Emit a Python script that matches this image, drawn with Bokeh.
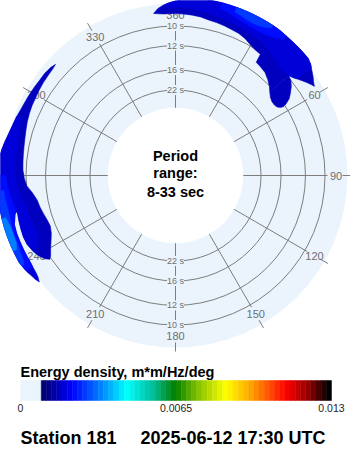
import numpy as np
from bokeh.plotting import figure
from bokeh.models import Range1d, ColumnDataSource, LinearColorMapper
from bokeh.transform import transform
from bokeh.core.properties import value
from bokeh.embed import file_html
from bokeh.resources import INLINE

# ---------------- data ----------------
STATION = "Station 181"
STAMP = "2025-06-12 17:30 UTC"
CENTER_LINES = ["Period", "range:", "8-33 sec"]
PERIOD_MIN = 8.0
PERIOD_MAX = 33.0
GRID_PERIODS = [10, 12, 16, 22]
BEARINGS = [0, 30, 60, 90, 120, 150, 180, 210, 240, 270, 300, 330]
BEARING_LABELS = ["360", "30", "60", "90", "120", "150", "180", "210", "240", "270", "300", "330"]
CB_TITLE = "Energy density, m*m/Hz/deg"
CB_TICKS = [0.0, 0.0065, 0.013]
CB_TICK_LABELS = ["0", "0.0065", "0.013"]
E_MAX = 0.013

# energy-density contour bands: (direction deg, long-period edge s, short-period edge s)
# north-east swell
NE_BASE = [(352.3, 8.93, 8.93), (354, 9.00, 8.64), (356, 9.04, 8.45), (358, 9.04, 8.33),
           (0, 9.04, 8.24), (3, 9.06, 8.10), (6, 9.09, 8.00), (9, 9.14, 8.00),
           (12, 9.25, 8.00), (15, 9.30, 8.00), (18, 9.36, 8.00), (21, 9.45, 8.00),
           (24, 9.51, 8.00), (27, 9.67, 8.00), (30, 9.92, 8.00), (33, 10.09, 8.00),
           (35, 10.13, 8.00), (35.5, 10.98, 8.01), (38, 11.09, 8.03), (41, 11.25, 8.06),
           (44, 11.64, 8.07), (46.5, 12.06, 8.09), (48.5, 12.51, 8.10)]
NE_LOBE = [(48.5, 12.51, 9.87), (50.5, 12.92, 10.00), (52.5, 13.14, 10.31),
           (54.5, 13.14, 10.78), (56, 12.99, 11.19), (57, 12.64, 11.75), (57.5, 12.24, 12.24)]
NE_TAIL = [(48.5, 9.87, 8.10), (50.5, 9.67, 8.21), (52.5, 9.40, 8.39), (54.5, 9.14, 8.57),
           (56, 8.97, 8.73), (57.3, 8.83, 8.83)]
NE_MID = [(357, 8.61, 8.39), (0, 8.64, 8.24), (3, 8.64, 8.10), (6, 8.68, 8.00),
          (9, 8.73, 8.00), (12, 8.80, 8.00), (15, 8.87, 8.00), (18, 8.93, 8.00),
          (21, 9.00, 8.00), (24, 9.07, 8.00), (27, 9.14, 8.00), (30, 9.18, 8.00),
          (33, 9.25, 8.00), (36, 9.40, 8.01), (39, 9.63, 8.05), (42, 9.83, 8.06),
          (45, 9.96, 8.08), (48.5, 9.87, 8.10), (50.5, 9.67, 8.21), (51.5, 9.51, 8.30)]
NE_HIGH = [(15, 8.33, 8.00), (18, 8.42, 8.00), (21, 8.57, 8.00), (24, 8.67, 8.00),
           (27, 8.73, 8.00), (30, 8.73, 8.00), (33, 8.67, 8.00), (36, 8.51, 8.01),
           (38.5, 8.27, 8.04)]
NE_PEAK = [(20, 8.27, 8.00), (22.5, 8.36, 8.00), (25.5, 8.45, 8.00), (28.5, 8.45, 8.00),
           (31, 8.33, 8.00), (33, 8.16, 8.00)]
# west swell
W_BASE = [(312.8, 8.93, 8.93), (311, 9.00, 8.83), (308, 9.04, 8.77), (305, 9.07, 8.77),
          (302, 9.12, 8.73), (299, 9.18, 8.70), (296, 9.21, 8.67), (293, 9.27, 8.62),
          (290, 9.35, 8.54), (287, 9.45, 8.48), (284, 9.54, 8.39), (281, 9.61, 8.27),
          (278, 9.66, 8.16), (275, 9.70, 8.05), (272, 9.74, 8.00), (269, 9.85, 8.00),
          (266, 10.04, 8.00), (263, 10.49, 8.00), (260, 10.83, 8.00), (257.5, 10.95, 8.00),
          (257, 10.96, 9.02), (254, 11.14, 8.97), (251, 11.32, 8.93), (248, 11.41, 8.90),
          (245, 11.19, 8.93), (242, 10.78, 9.07), (239.5, 10.40, 9.29), (237.5, 10.13, 9.55),
          (236.3, 9.87, 9.87)]
W_OUTER = [(257.5, 8.93, 8.00), (256, 8.80, 8.00), (253, 8.61, 8.00), (250, 8.57, 8.00),
           (247, 8.57, 8.00), (244, 8.57, 8.00), (241, 8.57, 8.00), (239, 8.57, 8.05),
           (237, 8.54, 8.10), (235, 8.51, 8.19), (233.5, 8.45, 8.24), (232, 8.34, 8.34)]
W_MID = [(290.5, 8.87, 8.56), (287, 8.97, 8.48), (284, 9.04, 8.39), (281, 9.11, 8.27),
         (278, 9.12, 8.16), (275, 9.16, 8.05), (272, 9.18, 8.00), (269, 9.23, 8.00),
         (266, 9.30, 8.00), (263, 9.44, 8.00), (260, 9.59, 8.00), (257.5, 9.75, 8.00),
         (257, 9.77, 9.02), (254, 9.79, 8.97), (251, 9.92, 8.93), (248, 9.96, 8.90),
         (245, 9.83, 8.93), (242.5, 9.48, 9.11)]
W_HIGH = [(270, 8.51, 8.00), (267, 8.61, 8.00), (264, 8.70, 8.00), (261, 8.83, 8.00),
          (258, 8.92, 8.00), (257.5, 8.93, 8.00), (256, 8.80, 8.00), (253, 8.61, 8.00),
          (250, 8.57, 8.00), (247, 8.57, 8.00), (244, 8.57, 8.00), (241, 8.57, 8.00),
          (239, 8.57, 8.05), (237.5, 8.54, 8.09)]
W_PEAK = [(265, 8.36, 8.00), (262, 8.39, 8.00), (259, 8.45, 8.00), (256, 8.45, 8.00),
          (253, 8.39, 8.00), (250, 8.39, 8.00), (247, 8.39, 8.00), (244, 8.33, 8.00),
          (241, 8.27, 8.00), (239.5, 8.16, 8.02)]
W_TOP = [(256, 8.21, 8.00), (253, 8.33, 8.00), (250, 8.36, 8.00), (247, 8.33, 8.00),
         (245, 8.19, 8.00)]

# band levels (energy density, m*m/Hz/deg), in drawing order
BANDS = [(NE_BASE, 0.0016), (NE_LOBE, 0.0016), (NE_TAIL, 0.0016), (NE_MID, 0.0019),
         (NE_HIGH, 0.0023), (NE_PEAK, 0.0028),
         (W_BASE, 0.0016), (W_OUTER, 0.0019), (W_MID, 0.0019), (W_HIGH, 0.0023),
         (W_PEAK, 0.0028), (W_TOP, 0.0034)]

# ---------------- style / layout ----------------
R0, KR = 32.2, 1173.0          # radius (px) = R0 + KR * frequency


def rad(period):
    return R0 + KR / np.asarray(period, dtype=float)


DISK = "#ebf4fd"
DISK_R = 172.0
GRID = "#7d7d7d"
LABEL = "#6e6e6e"
FONT = value("Liberation Sans")

N_COL = 60
N_ZERO = 4
ANCHORS = [(0.00, "#000070"), (0.10, "#0000ff"), (0.20, "#0080ff"), (0.29, "#00ffff"),
           (0.38, "#00c0a0"), (0.46, "#008000"), (0.55, "#90c800"), (0.64, "#ffff00"),
           (0.73, "#ffa000"), (0.85, "#ff0000"), (0.93, "#900000"), (1.00, "#000000")]


def build_palette():
    pos = [a[0] for a in ANCHORS]
    rgb = np.array([[int(c[i:i + 2], 16) for i in (1, 3, 5)] for _, c in ANCHORS], float)
    pal = [DISK] * N_ZERO
    for i in range(N_COL - N_ZERO):
        t = i / (N_COL - N_ZERO - 1)
        r, g, b = (int(round(np.interp(t, pos, rgb[:, k]))) for k in range(3))
        pal.append("#%02x%02x%02x" % (r, g, b))
    return pal


PALETTE = build_palette()
mapper = LinearColorMapper(palette=PALETTE, low=0.0, high=E_MAX)

p = figure(width=350, height=450, x_range=Range1d(-175, 175), y_range=Range1d(-275, 175),
           min_border=0, toolbar_location=None, output_backend="svg",
           x_axis_type=None, y_axis_type=None, outline_line_color=None,
           background_fill_color="white", border_fill_color="white")
p.xgrid.visible = False
p.ygrid.visible = False

# background disk and empty centre
p.circle(x=0, y=0, radius=DISK_R, fill_color=DISK, line_color=None)
p.circle(x=0, y=0, radius=float(rad(PERIOD_MAX)), fill_color="white", line_color=None)

# period circles
gr = rad(GRID_PERIODS)
p.circle(x=[0] * len(gr), y=[0] * len(gr), radius=gr, fill_color=None,
         line_color=GRID, line_width=1)

# spokes, ticks and bearing labels
b = np.radians(BEARINGS)
r1, r2 = float(rad(PERIOD_MAX)), float(rad(10)) + 2.5
p.segment(r1 * np.sin(b), r1 * np.cos(b), r2 * np.sin(b), r2 * np.cos(b),
          line_color=GRID, line_width=1)
t1, t2 = 167.0, 176.0
p.segment(t1 * np.sin(b), t1 * np.cos(b), t2 * np.sin(b), t2 * np.cos(b),
          line_color=GRID, line_width=1)
rl = 160.5
p.text(x=rl * np.sin(b), y=rl * np.cos(b), text=BEARING_LABELS, text_font=FONT,
       text_font_size="11px", text_color=LABEL, text_align="center",
       text_baseline="middle")

# period labels on the 0 / 180 spoke
py = np.concatenate([gr, -gr])
ptxt = ["%d s" % g for g in GRID_PERIODS] * 2
p.text(x=-8.5, y=py, text=ptxt, text_font=FONT, text_font_size="9px", text_color=LABEL,
       text_align="left", text_baseline="middle", background_fill_color=DISK)

# spectrum contour bands
xs, ys, lev = [], [], []
for band, level in BANDS:
    d = np.radians([c[0] for c in band])
    r_in = rad([c[1] for c in band])
    r_out = rad([c[2] for c in band])
    rr = np.concatenate([r_out, r_in[::-1]])
    dd = np.concatenate([d, d[::-1]])
    xs.append(rr * np.sin(dd))
    ys.append(rr * np.cos(dd))
    lev.append(level)
src = ColumnDataSource(dict(xs=xs, ys=ys, e=lev))
p.patches("xs", "ys", source=src, fill_color=transform("e", mapper),
          line_color=transform("e", mapper), line_width=0.6)

# centre text
p.text(x=0, y=[20, 3, -16], text=CENTER_LINES, text_font=FONT, text_font_size="14.5px",
       text_font_style="bold", text_color="black", text_align="center",
       text_baseline="middle")

# colour bar
s = E_MAX / 311.0
p.extra_x_ranges = {"cb": Range1d(-20 * s, 330 * s)}
edges = np.linspace(0, E_MAX, N_COL + 1)
p.quad(left=edges[:-1], right=edges[1:], bottom=-225, top=-205, fill_color=PALETTE,
       line_color=PALETTE, line_width=0.5, x_range_name="cb")
p.text(x=CB_TICKS, y=-232, text=CB_TICK_LABELS, x_range_name="cb", text_font=FONT,
       text_font_size="10.5px", text_color="#222222", text_align="center",
       text_baseline="middle")
p.text(x=-155, y=-196, text=[CB_TITLE], text_font=FONT, text_font_size="14.5px",
       text_font_style="bold", text_color="black", text_align="left",
       text_baseline="middle")

# footer
p.text(x=[-155, -35], y=-262, text=[STATION, STAMP], text_font=FONT,
       text_font_size="18px", text_font_style="bold", text_color="black",
       text_align="left", text_baseline="middle")

open("out.html", "w").write(file_html(p, INLINE))
